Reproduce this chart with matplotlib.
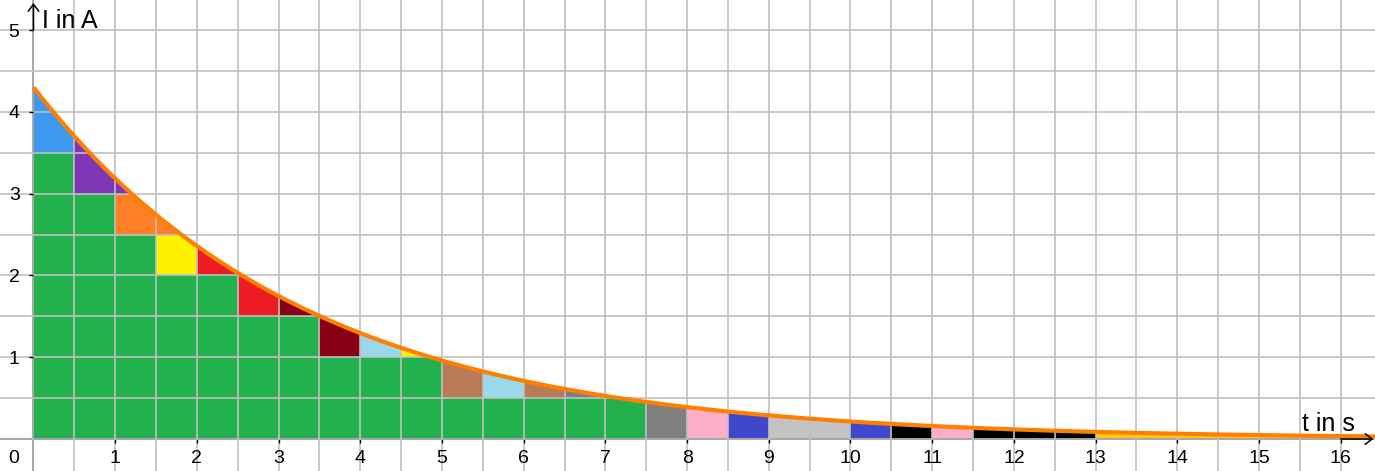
import numpy as np
import matplotlib.pyplot as plt
from matplotlib.patches import Rectangle, Polygon
from matplotlib.collections import PatchCollection
from matplotlib.ticker import MultipleLocator

plt.rcParams['font.family'] = ['Liberation Sans', 'DejaVu Sans']

# discharge current I(t) = I0 * exp(-k t)
I0 = 4.3
k = 0.3

CELL = 0.5
# full (green) cells per 0.5 s column, starting at t = 0
green_cells = [7, 6, 5, 4, 4, 3, 3, 2, 2, 2, 1, 1, 1, 1, 1]

# partial cells under the curve (lower-left corner), grouped by colour
part_t = [0.0, 0.0, 0.5, 0.5, 1.0, 1.0, 1.5, 1.5, 2.0, 2.5, 2.5, 3.0, 3.5,
          4.0, 4.5, 5.0, 5.5, 6.0, 6.5, 7.0, 7.5, 8.0, 8.5, 9.0, 9.5, 10.0,
          10.5, 11.0, 11.5, 12.0, 12.5, 13.0, 13.5, 14.0, 14.5, 15.0, 15.5, 16.0]
part_y = [3.5, 4.0, 3.0, 3.5, 3.0, 2.5, 2.5, 2.0, 2.0, 1.5, 2.0, 1.5, 1.0,
          1.0, 1.0, 0.5, 0.5, 0.5, 0.5, 0.5, 0.0, 0.0, 0.0, 0.0, 0.0, 0.0,
          0.0, 0.0, 0.0, 0.0, 0.0, 0.0, 0.0, 0.0, 0.0, 0.0, 0.0, 0.0]
part_color = ['#3d98f0', '#3d98f0',
              '#8036b4', '#8036b4', '#8036b4',
              '#ff7f27', '#ff7f27',
              '#fff200',
              '#ed1c24', '#ed1c24', '#ed1c24',
              '#880015', '#880015',
              '#99d9ea', '#fff200', '#b97a57', '#99d9ea', '#b97a57',
              '#7f7f7f', '#7f7f7f', '#7f7f7f',
              '#ffaec9', '#3f48cc', '#c3c3c3', '#c3c3c3', '#3f48cc',
              '#000000', '#ffaec9', '#000000', '#000000', '#000000',
              '#ffc90e', '#ffc90e', '#ffc90e', '#ffc90e', '#ffc90e', '#ffc90e', '#ffc90e']

fig = plt.figure(figsize=(13.75, 4.71), dpi=100)
ax = fig.add_axes([0, 0, 1, 1])
xmin, xmax = -0.41, 16.42
ymin, ymax = -0.391, 5.367
ax.set_xlim(xmin, xmax)
ax.set_ylim(ymin, ymax)

t = np.linspace(0, xmax, 600)
I = I0 * np.exp(-k * t)

# area under the curve, used to clip the squares
verts = np.column_stack([np.r_[t, xmax, 0], np.r_[I, 0, 0]])
clip = Polygon(verts, closed=True, transform=ax.transData)

rects = []
colors = []
for i, n in enumerate(green_cells):
    for j in range(n):
        rects.append(Rectangle((i * CELL, j * CELL), CELL, CELL))
        colors.append('#22b14c')
for x0, y0, c in zip(part_t, part_y, part_color):
    rects.append(Rectangle((x0, y0), CELL, CELL))
    colors.append(c)
pc = PatchCollection(rects, facecolors=colors, edgecolors='none', zorder=1)
ax.add_collection(pc)
pc.set_clip_path(clip)

ax.plot(t, I, color='#ff7f00', lw=3, zorder=3, solid_capstyle='butt')

# grid every 0.5
ax.xaxis.set_minor_locator(MultipleLocator(0.5))
ax.yaxis.set_minor_locator(MultipleLocator(0.5))
ax.set_axisbelow(False)
ax.grid(which='both', color='#c0c0c0', lw=1.2)

# axes through the origin
for s in ['top', 'right']:
    ax.spines[s].set_visible(False)
ax.spines['left'].set_position(('data', 0))
ax.spines['bottom'].set_position(('data', 0))
ax.spines['left'].set_linewidth(1.1)
ax.spines['bottom'].set_linewidth(1.1)
ax.set_xticks(np.arange(1, 17))
ax.set_yticks(np.arange(1, 6))
ax.tick_params(which='major', direction='out', length=3, width=1, labelsize=14)
ax.tick_params(axis='x', pad=5)
ax.tick_params(axis='y', pad=7)
ax.tick_params(which='minor', length=0)

ax.annotate('0', xy=(0, 0), xytext=(-10, -8), textcoords='offset points',
            ha='right', va='top', fontsize=14)

arrow = dict(arrowstyle='->,head_length=0.5,head_width=0.38', lw=1.1,
             color='black', shrinkA=0, shrinkB=0)
ax.annotate('', xy=(0, 5.33), xytext=(0, 5.0), arrowprops=arrow)
ax.annotate('', xy=(16.40, 0), xytext=(16.0, 0), arrowprops=arrow)

ax.text(0.104, 5.02, 'I in A', fontsize=18, ha='left', va='baseline')
ax.text(15.53, 0.10, 't in s', fontsize=18, ha='left', va='baseline')

fig.savefig('out.png', dpi=100)
